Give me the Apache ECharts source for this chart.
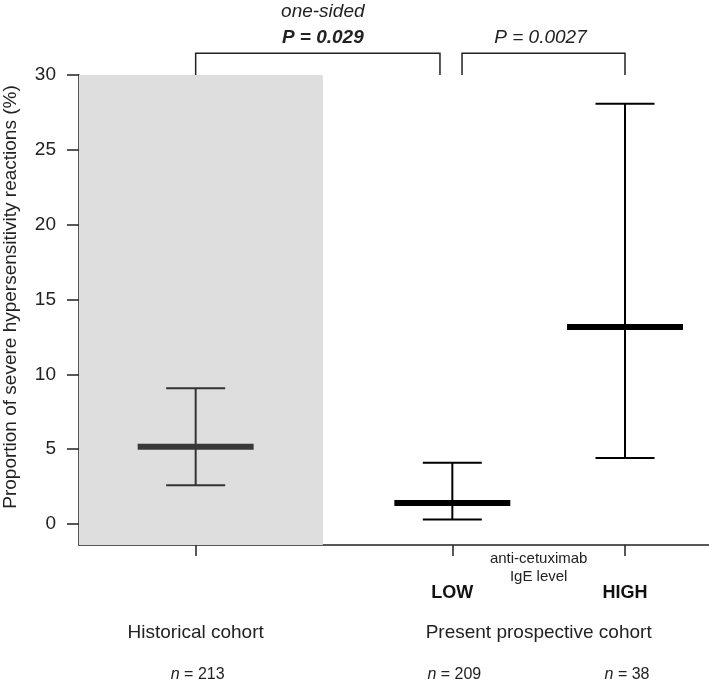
<!DOCTYPE html>
<html><head><meta charset="utf-8">
<script src="https://cdn.jsdelivr.net/npm/echarts@6/dist/echarts.min.js"></script>
<style>html,body{margin:0;padding:0;background:#fff}#c{width:709px;height:683px}</style>
</head><body><div id="c"></div>
<script>
// ---- data ----
const groups = ['Historical cohort', 'LOW', 'HIGH'];
const xPositions = [1, 3.2, 4.68];
const means = [5.16, 1.4, 13.16];
const ciLower = [2.6, 0.3, 4.41];
const ciUpper = [9.08, 4.1, 28.08];
const sampleSizes = [213, 209, 38];
const levelLabels = ['', 'LOW', 'HIGH'];
const cohortLabels = ['Historical cohort', 'Present prospective cohort'];
const yTickValues = [0, 5, 10, 15, 20, 25, 30];
const historicalSpan = [0, 2.09];
const brackets = [[1, 3.094], [3.283, 4.68]];
const bracketTexts = [['one-sided', 'P = 0.029'], ['', 'P = 0.0027']];
const yMin = -1.4, yMax = 30, bracketTop = 31.45;

const FONT = '"Liberation Sans", Arial, sans-serif';
const chart = echarts.init(document.getElementById('c'), null, {renderer: 'canvas'});

const option = {
  animation: false,
  backgroundColor: '#fff',
  grid: {left: 79, right: 0, top: 75, bottom: 138},
  xAxis: {
    type: 'value', min: 0, max: 5.4,
    axisLine: {show: true, onZero: false, lineStyle: {color: '#222', width: 1.5}},
    axisTick: {show: true, customValues: xPositions, length: 11, lineStyle: {color: '#222', width: 1.5}},
    axisLabel: {show: false},
    splitLine: {show: false}
  },
  yAxis: {
    type: 'value', min: yMin, max: yMax,
    axisLine: {show: true, onZero: false, lineStyle: {color: '#222', width: 1.5}},
    axisTick: {show: true, customValues: yTickValues, length: 12, lineStyle: {color: '#222', width: 1.5}},
    axisLabel: {customValues: yTickValues, margin: 23, fontSize: 19, color: '#222', fontFamily: FONT},
    splitLine: {show: false}
  },
  graphic: [{
    type: 'text', x: 11, y: 297, rotation: Math.PI / 2,
    style: {text: 'Proportion of severe hypersensitivity reactions (%)', fontSize: 19, fontFamily: FONT,
      fill: '#222', textAlign: 'center', textVerticalAlign: 'middle'}
  }],
  series: [
    {
      type: 'custom', z: 1, silent: true,
      data: [[historicalSpan[0], historicalSpan[1]]],
      renderItem: function (params, api) {
        const p1 = api.coord([api.value(0), yMax]);
        const p2 = api.coord([api.value(1), yMin]);
        return {type: 'rect', shape: {x: p1[0], y: p1[1], width: p2[0] - p1[0], height: p2[1] - p1[1]},
          style: {fill: '#dedede'}};
      }
    },
    {
      type: 'custom', z: 3, silent: true,
      data: xPositions.map((x, i) => [x, means[i], ciLower[i], ciUpper[i]]),
      renderItem: function (params, api) {
        const x = api.value(0), m = api.value(1), lo = api.value(2), hi = api.value(3);
        const idx = params.dataIndex;
        const c = idx === 0 ? '#333' : '#000';
        const pLo = api.coord([x, lo]), pHi = api.coord([x, hi]), pM = api.coord([x, m]);
        const capL = api.coord([x - 0.253, 0])[0], capR = api.coord([x + 0.253, 0])[0];
        const mL = api.coord([x - 0.497, 0])[0], mR = api.coord([x + 0.497, 0])[0];
        return {type: 'group', children: [
          {type: 'line', shape: {x1: pLo[0], y1: pLo[1], x2: pHi[0], y2: pHi[1]}, style: {stroke: c, lineWidth: 2}},
          {type: 'line', shape: {x1: capL, y1: pLo[1], x2: capR, y2: pLo[1]}, style: {stroke: c, lineWidth: 2}},
          {type: 'line', shape: {x1: capL, y1: pHi[1], x2: capR, y2: pHi[1]}, style: {stroke: c, lineWidth: 2}},
          {type: 'line', shape: {x1: mL, y1: pM[1], x2: mR, y2: pM[1]}, style: {stroke: idx === 0 ? '#383838' : '#000', lineWidth: 6}}
        ]};
      }
    },
    {
      type: 'custom', z: 3, silent: true, clip: false,
      data: brackets.map((b, i) => [b[0], b[1], i]),
      renderItem: function (params, api) {
        const x1 = api.value(0), x2 = api.value(1), i = params.dataIndex;
        const a = api.coord([x1, yMax]), b = api.coord([x1, bracketTop]);
        const c = api.coord([x2, bracketTop]), d = api.coord([x2, yMax]);
        const cx = (a[0] + d[0]) / 2;
        const kids = [
          {type: 'polyline', shape: {points: [a, b, c, d]}, style: {stroke: '#222', lineWidth: 1.5, fill: null}}
        ];
        if (bracketTexts[i][0]) kids.push({type: 'text', x: cx + 5, y: b[1] - 42,
          style: {text: bracketTexts[i][0], fontSize: 19, fontStyle: 'italic', fontFamily: FONT, fill: '#222',
            textAlign: 'center', textVerticalAlign: 'middle'}});
        kids.push({type: 'text', x: cx + (i === 0 ? 5 : -3), y: b[1] - 16,
          style: {text: bracketTexts[i][1], fontSize: 19, fontStyle: 'italic', fontWeight: i === 0 ? 'bold' : 'normal',
            fontFamily: FONT, fill: '#222', textAlign: 'center', textVerticalAlign: 'middle'}});
        return {type: 'group', children: kids};
      }
    },
    {
      type: 'custom', z: 3, silent: true, clip: false,
      data: xPositions.map((x, i) => [x, i]),
      renderItem: function (params, api) {
        const x = api.value(0), i = params.dataIndex;
        const base = api.coord([x, yMin]);
        const kids = [];
        if (levelLabels[i]) kids.push({type: 'text', x: base[0], y: base[1] + 48,
          style: {text: levelLabels[i], fontSize: 18, fontWeight: 'bold', fontFamily: FONT, fill: '#111',
            textAlign: 'center', textVerticalAlign: 'middle'}});
        kids.push({type: 'text', x: base[0] + 2, y: base[1] + 130,
          style: {text: '{i|n} = ' + sampleSizes[i], fontSize: 16, fontFamily: FONT, fill: '#222',
            textAlign: 'center', textVerticalAlign: 'middle',
            rich: {i: {fontStyle: 'italic', fontSize: 16, fontFamily: FONT, fill: '#222'}}}});
        if (i === 0) kids.push({type: 'text', x: base[0], y: base[1] + 88,
          style: {text: cohortLabels[0], fontSize: 19, fontFamily: FONT, fill: '#222',
            textAlign: 'center', textVerticalAlign: 'middle'}});
        if (i === 1) {
          const other = api.coord([xPositions[2], yMin]);
          const cx = (base[0] + other[0]) / 2;
          kids.push({type: 'text', x: cx, y: base[1] + 88,
            style: {text: cohortLabels[1], fontSize: 19, fontFamily: FONT, fill: '#222',
              textAlign: 'center', textVerticalAlign: 'middle'}});
          kids.push({type: 'text', x: cx, y: base[1] + 14,
            style: {text: 'anti-cetuximab', fontSize: 15, fontFamily: FONT, fill: '#222',
              textAlign: 'center', textVerticalAlign: 'middle'}});
          kids.push({type: 'text', x: cx, y: base[1] + 32,
            style: {text: 'IgE level', fontSize: 15, fontFamily: FONT, fill: '#222',
              textAlign: 'center', textVerticalAlign: 'middle'}});
        }
        return {type: 'group', children: kids};
      }
    }
  ]
};
chart.setOption(option);
</script></body></html>
